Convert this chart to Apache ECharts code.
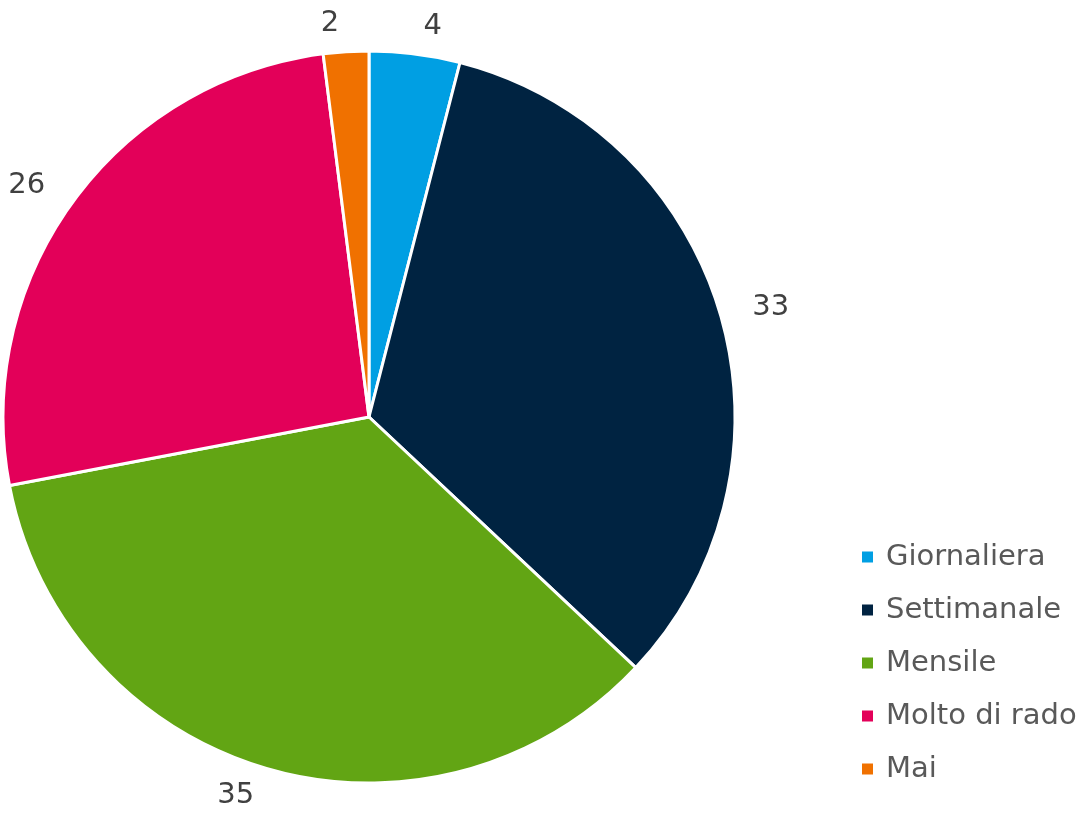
<!DOCTYPE html>
<html lang="it">
<head>
    <meta charset="UTF-8">
    <title>Frequenza</title>
    <script src="https://cdn.jsdelivr.net/npm/echarts@6/dist/echarts.min.js"></script>
    <style>
        html, body { margin: 0; padding: 0; background: #fff; }
    </style>
</head>
<body>
<div id="main" style="width: 1089px;height:827px;"></div>
<script type="text/javascript">
    var categories = ['Giornaliera', 'Settimanale', 'Mensile', 'Molto di rado', 'Mai'];
    var values = [4, 33, 35, 26, 2];
    var colors = ['#009FE3', '#002341', '#62A514', '#E30059', '#F07100'];

    var data = [];
    for (var i = 0; i < categories.length; i++) {
        data.push({ name: categories[i], value: values[i], itemStyle: { color: colors[i] } });
    }

    var myChart = echarts.init(document.getElementById('main'));
    var option = {
        animation: false,
        legend: {
            orient: 'vertical',
            left: 855,
            top: 537,
            itemWidth: 13,
            itemHeight: 13,
            itemGap: 23,
            icon: 'rect',
            textStyle: {
                fontFamily: 'DejaVu Sans',
                fontSize: 29,
                lineHeight: 30,
                color: '#595959',
                padding: [0, 0, 0, 7]
            },
            data: categories
        },
        series: [{
            type: 'pie',
            center: [369, 417],
            radius: 366,
            startAngle: 90,
            clockwise: true,
            itemStyle: { borderColor: '#fff', borderWidth: 3 },
            label: {
                show: true,
                position: 'outside',
                formatter: '{c}',
                fontFamily: 'DejaVu Sans',
                fontSize: 29,
                color: '#404040',
                overflow: 'none'
            },
            labelLine: { show: false, length: 28, length2: 0 },
            emphasis: { disabled: true },
            data: data
        }]
    };
    myChart.setOption(option);
</script>
</body>
</html>
